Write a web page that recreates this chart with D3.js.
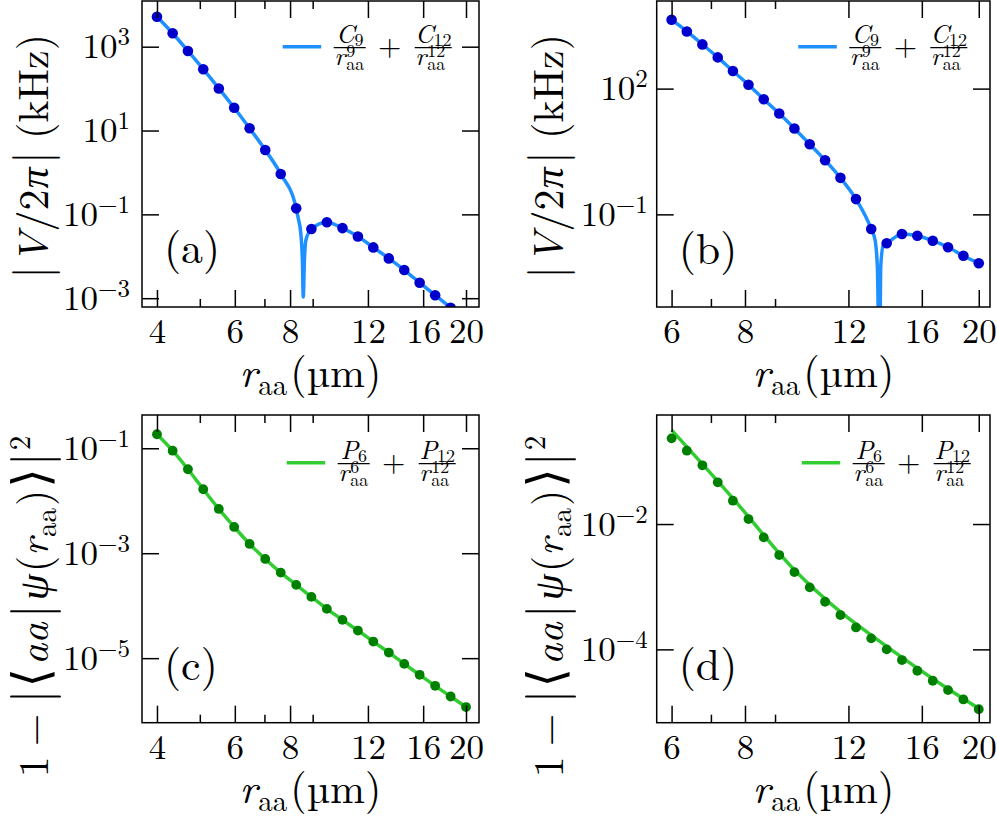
<!DOCTYPE html>
<html>
<head>
<meta charset="utf-8">
<script src="https://cdn.jsdelivr.net/npm/d3@7"></script>
<style>
  body { margin: 0; background: #fff; }
</style>
</head>
<body>
<svg id="fig" width="997" height="817"></svg>
<script>
// atom-atom distances (um), panels (a)/(c) and (b)/(d)
const rAC = [4.00, 4.34, 4.70, 5.09, 5.52, 5.98, 6.48, 7.03, 7.62, 8.26, 8.94, 9.69, 10.51, 11.39, 12.34, 13.38, 14.50, 15.71, 17.03, 18.46, 20.00];
const rBD = [6.00, 6.37, 6.77, 7.19, 7.63, 8.11, 8.61, 9.15, 9.71, 10.31, 10.95, 11.63, 12.36, 13.12, 13.94, 14.80, 15.72, 16.70, 17.73, 18.83, 20.00];

// |V/2pi| (kHz), numerical points
const vA = [5200, 2090, 790, 290, 101, 35, 11.3, 3.43, 0.92, 0.139, 0.0446, 0.065, 0.047, 0.0296, 0.0163, 0.0089, 0.0047, 0.00234, 0.00118, 0.00059, 0.00029];
const vB = [4400, 2310, 1135, 556, 263, 124, 55.6, 25.4, 11.2, 4.72, 1.96, 0.743, 0.231, 0.0447, 0.0204, 0.034, 0.031, 0.0235, 0.0164, 0.0103, 0.0068];

// C9/r^9 + C12/r^12 fit (with the sign change dip)
const fitRA = [4.00, 4.34, 4.70, 5.09, 5.52, 5.98, 6.48, 7.03, 7.62, 8.26, 8.35, 8.46, 8.53, 8.57, 8.62, 8.69, 8.94, 9.69, 10.51, 11.39, 12.34, 13.38, 14.50, 15.71, 17.03, 18.46, 20.00];
const fitVA = [5200, 2090, 790, 290, 101, 35, 11.3, 3.43, 0.92, 0.139, 0.080, 0.035, 0.0081, 0.00107, 0.0081, 0.0245, 0.0446, 0.065, 0.047, 0.0296, 0.0163, 0.0089, 0.0047, 0.00234, 0.00118, 0.00059, 0.00029];
const fitRB = [6.00, 6.37, 6.77, 7.19, 7.63, 8.11, 8.61, 9.15, 9.71, 10.31, 10.95, 11.63, 12.36, 13.12, 13.32, 13.44, 13.56, 13.62, 13.76, 13.94, 14.80, 15.72, 16.70, 17.73, 18.83, 20.00];
const fitVB = [4400, 2310, 1135, 556, 263, 124, 55.6, 25.4, 11.2, 4.72, 1.96, 0.743, 0.231, 0.0447, 0.0244, 0.0057, 0.00001, 0.0057, 0.0186, 0.0204, 0.034, 0.031, 0.0235, 0.0164, 0.0103, 0.0068];

// 1 - |<aa|psi(r)>|^2, numerical points
const pC = [0.185, 0.090, 0.0398, 0.01655, 0.00698, 0.00317, 0.00150, 7.78e-4, 4.27e-4, 2.49e-4, 1.47e-4, 8.69e-5, 5.37e-5, 3.36e-5, 2.07e-5, 1.28e-5, 7.78e-6, 4.81e-6, 2.97e-6, 1.86e-6, 1.17e-6];
const pD = [0.233, 0.148, 0.0865, 0.0463, 0.0236, 0.0120, 0.00613, 0.00320, 0.00171, 9.76e-4, 5.75e-4, 3.53e-4, 2.24e-4, 1.50e-4, 1.00e-4, 6.75e-5, 4.56e-5, 3.16e-5, 2.24e-5, 1.59e-5, 1.11e-5];

// P6/r^6 + P12/r^12 fit
const fitRC = rAC;
const fitVC = pC;
const fitRD = [6.00, 7.63, 9.71, 11.63, 13.12, 14.80, 16.70, 20.00];
const fitVD = [0.316, 0.0257, 0.00185, 3.98e-4, 1.69e-4, 7.45e-5, 3.40e-5, 1.14e-5];

// ticks
const xMajorAC = [4, 6, 8, 12, 16, 20];
const xMinorAC = [5, 7, 9];
const xMajorBD = [6, 8, 12, 16, 20];
const xMinorBD = [7, 9];
const yExpA = [3, 1, -1, -3];
const yExpB = [2, -1];
const yExpC = [-1, -3, -5];
const yExpD = [-2, -4];

const FONT = "'Latin Modern Roman', 'Liberation Serif', 'DejaVu Serif', serif";
const svg = d3.select("#fig");
const blue = "#1e90ff", darkBlue = "#0000cd", lime = "#32cd32", green = "#008000";

function txt(parent) {
  return parent.append("text").attr("font-family", FONT).attr("fill", "#000");
}

function styleAxis(sel) {
  sel.attr("font-family", FONT).attr("font-size", null);
  sel.select(".domain").remove();
  sel.selectAll("line").attr("stroke", "#000").attr("stroke-width", 1.5);
  sel.selectAll("text").attr("font-family", FONT).attr("fill", "#000");
}

function fraction(g, bl, w, bar, letter, pw) {
  g.append("line").attr("x1", bl).attr("x2", bl + w).attr("y1", bar).attr("y2", bar)
    .attr("stroke", "#000").attr("stroke-width", 1.2);
  const num = txt(g).attr("x", bl + w / 2).attr("y", bar - 5).attr("text-anchor", "middle");
  num.append("tspan").attr("font-size", 26).attr("font-style", "italic").text(letter);
  num.append("tspan").attr("font-size", 18).attr("dy", 3).text(pw);
  txt(g).attr("x", bl + 0.5).attr("y", bar + 17).attr("font-size", 26)
    .attr("font-style", "italic").text("r");
  txt(g).attr("x", bl + 12.5).attr("y", bar + 9).attr("font-size", 18).text(pw);
  txt(g).attr("x", bl + 12.5).attr("y", bar + 22).attr("font-size", 18).text("aa");
}

// appends [text, size, italic, dx, dy] pieces as tspans
function pieces(t, list) {
  list.forEach(([s, size, it, dx, dy]) => {
    const ts = t.append("tspan").attr("font-size", size).text(s);
    if (it) ts.attr("font-style", "italic");
    if (dx) ts.attr("dx", dx);
    if (dy) ts.attr("dy", dy);
  });
}

function panel(c) {
  const x = d3.scaleLog().domain(c.xDomain).range([c.left, c.right]);
  const y = d3.scaleLog().domain(c.yDomain).range([c.bottom, c.top]);
  const g = svg.append("g");
  const clip = "clip-" + c.id;
  svg.append("clipPath").attr("id", clip).append("rect")
    .attr("x", c.left).attr("y", c.top)
    .attr("width", c.right - c.left).attr("height", c.bottom - c.top);

  // fit curve
  const line = d3.line().x(d => x(d[0])).y(d => y(d[1])).curve(d3.curveMonotoneX);
  g.append("path")
    .datum(d3.zip(c.fitR, c.fitV))
    .attr("clip-path", `url(#${clip})`)
    .attr("fill", "none")
    .attr("stroke", c.lineColor)
    .attr("stroke-width", 3.5)
    .attr("d", line);

  // points
  g.append("g").attr("clip-path", `url(#${clip})`)
    .selectAll("circle")
    .data(d3.zip(c.dotR, c.dotV))
    .join("circle")
    .attr("cx", d => x(d[0]))
    .attr("cy", d => y(d[1]))
    .attr("r", c.dotRadius)
    .attr("fill", c.dotColor);

  // frame
  g.append("rect").attr("x", c.left).attr("y", c.top)
    .attr("width", c.right - c.left).attr("height", c.bottom - c.top)
    .attr("fill", "none").attr("stroke", "#000").attr("stroke-width", 1.5);

  // x axes
  g.append("g").attr("transform", `translate(0,${c.bottom})`)
    .call(d3.axisBottom(x).tickValues(c.xMajor).tickSizeInner(-17).tickSizeOuter(0)
      .tickPadding(11).tickFormat(d3.format("d")))
    .call(styleAxis)
    .selectAll("text").attr("font-size", 35);
  g.append("g").attr("transform", `translate(0,${c.bottom})`)
    .call(d3.axisBottom(x).tickValues(c.xMinor).tickSizeInner(-8).tickSizeOuter(0).tickFormat(""))
    .call(styleAxis);
  g.append("g").attr("transform", `translate(0,${c.top})`)
    .call(d3.axisTop(x).tickValues(c.xMajor).tickSizeInner(-17).tickSizeOuter(0).tickFormat(""))
    .call(styleAxis);
  g.append("g").attr("transform", `translate(0,${c.top})`)
    .call(d3.axisTop(x).tickValues(c.xMinor).tickSizeInner(-8).tickSizeOuter(0).tickFormat(""))
    .call(styleAxis);

  // y axes
  const yVals = c.yExp.map(e => Math.pow(10, e));
  const left = g.append("g").attr("transform", `translate(${c.left},0)`)
    .call(d3.axisLeft(y).tickValues(yVals).tickSizeInner(-17).tickSizeOuter(0)
      .tickPadding(c.yPad).tickFormat(""))
    .call(styleAxis);
  left.selectAll(".tick text").each(function (d, i) {
    const t = d3.select(this).attr("font-size", 35);
    t.append("tspan").text("10");
    t.append("tspan").attr("font-size", 25).attr("dy", -13)
      .text(String(c.yExp[i]).replace("-", "\u2212"));
  });
  g.append("g").attr("transform", `translate(${c.right},0)`)
    .call(d3.axisRight(y).tickValues(yVals).tickSizeInner(-17).tickSizeOuter(0).tickFormat(""))
    .call(styleAxis);

  // x label
  const xl = txt(g)
    .attr("x", (c.left + c.right) / 2).attr("y", c.bottom + 80)
    .attr("text-anchor", "middle");
  pieces(xl, [["r", 42, true], ["aa", 29, false, 1, 8], ["(\u00b5m)", 42, false, 3, -8]]);

  // y label
  const yl = txt(g)
    .attr("transform", `translate(${c.left - 94},${c.yLabelY}) rotate(-90)`)
    .attr("text-anchor", "middle");
  if (c.kind === "V") {
    pieces(yl, [
      ["|", 48], ["V", 42, true, 2], ["/2", 42, false, 1], ["\u03c0", 42, true, 1],
      ["|", 48, false, 3], ["(kHz)", 42, false, 12]
    ]);
  } else {
    pieces(yl, [
      ["1", 42], ["\u2212", 42, false, 10], ["|", 50, false, 10], ["\u27e8", 50, false, 2],
      ["aa", 42, true, 3], ["|", 50, false, 4], ["\u03c8", 42, true, 4], ["(", 42, false, 2],
      ["r", 42, true], ["aa", 29, false, 1, 8], [")", 42, false, 2, -8],
      ["\u27e9", 50, false, 2], ["|", 50, false, 2], ["2", 29, false, 2, -18]
    ]);
  }

  // panel tag
  txt(g).attr("x", c.left + 22).attr("y", c.tagY)
    .attr("font-size", 44).text(c.tag);

  // legend
  const L = c.legX, ly = c.legY, bar = ly + 1;
  g.append("line").attr("x1", L).attr("x2", L + 38.5).attr("y1", ly).attr("y2", ly)
    .attr("stroke", c.lineColor).attr("stroke-width", 3.5);
  fraction(g, L + 51, 32, bar, c.letter, c.pows[0]);
  txt(g).attr("x", L + 107).attr("y", bar + 8).attr("text-anchor", "middle")
    .attr("font-size", 30).text("+");
  fraction(g, L + 132, 37, bar, c.letter, c.pows[1]);
}

panel({
  id: "a", tag: "(a)", kind: "V",
  left: 142, right: 479, top: 1, bottom: 307,
  xDomain: [3.70, 21.4], yDomain: [Math.pow(10, -3.21), Math.pow(10, 4.09)],
  xMajor: xMajorAC, xMinor: xMinorAC, yExp: yExpA, yPad: 12,
  dotR: rAC, dotV: vA, fitR: fitRA, fitV: fitVA,
  lineColor: blue, dotColor: darkBlue, dotRadius: 5.3,
  yLabelY: 156.5, tagY: 263,
  legX: 282.7, legY: 46.7, letter: "C", pows: ["9", "12"]
});
panel({
  id: "b", tag: "(b)", kind: "V",
  left: 656.7, right: 990, top: 1, bottom: 307,
  xDomain: [5.66, 20.9], yDomain: [Math.pow(10, -3.21), Math.pow(10, 4.09)],
  xMajor: xMajorBD, xMinor: xMinorBD, yExp: yExpB, yPad: 9,
  dotR: rBD, dotV: vB, fitR: fitRB, fitV: fitVB,
  lineColor: blue, dotColor: darkBlue, dotRadius: 5.3,
  yLabelY: 156.5, tagY: 264,
  legX: 798.3, legY: 46.7, letter: "C", pows: ["9", "12"]
});
panel({
  id: "c", tag: "(c)", kind: "P",
  left: 142, right: 479, top: 415, bottom: 722.7,
  xDomain: [3.70, 21.4], yDomain: [Math.pow(10, -6.23), Math.pow(10, -0.366)],
  xMajor: xMajorAC, xMinor: xMinorAC, yExp: yExpC, yPad: 12,
  dotR: rAC, dotV: pC, fitR: fitRC, fitV: fitVC,
  lineColor: lime, dotColor: green, dotRadius: 4.9,
  yLabelY: 606.5, tagY: 680,
  legX: 286.7, legY: 462.7, letter: "P", pows: ["6", "12"]
});
panel({
  id: "d", tag: "(d)", kind: "P",
  left: 656.7, right: 990, top: 415, bottom: 722.7,
  xDomain: [5.66, 20.9], yDomain: [Math.pow(10, -5.17), Math.pow(10, -0.26)],
  xMajor: xMajorBD, xMinor: xMinorBD, yExp: yExpD, yPad: 9,
  dotR: rBD, dotV: pD, fitR: fitRD, fitV: fitVD,
  lineColor: lime, dotColor: green, dotRadius: 4.9,
  yLabelY: 606.5, tagY: 680,
  legX: 801.7, legY: 462.7, letter: "P", pows: ["6", "12"]
});
</script>
</body>
</html>
